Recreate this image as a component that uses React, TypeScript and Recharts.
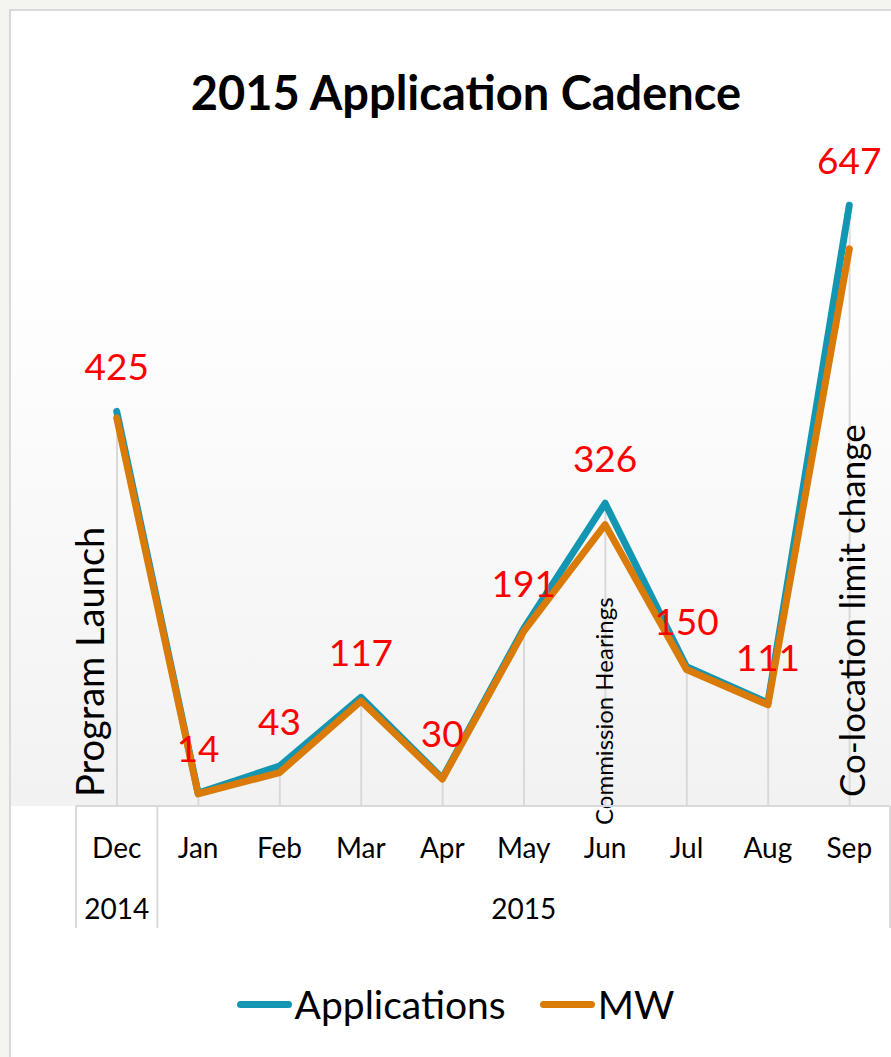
import React from 'react';
import { ComposedChart, Line, Bar, XAxis, YAxis, LabelList, Legend, ReferenceLine } from 'recharts';

const months = ['Dec', 'Jan', 'Feb', 'Mar', 'Apr', 'May', 'Jun', 'Jul', 'Aug', 'Sep'];
const years = ['2014', '2015', '2015', '2015', '2015', '2015', '2015', '2015', '2015', '2015'];
const applications = [425, 14, 43, 117, 30, 191, 326, 150, 111, 647];
const mw = [418, 13, 36, 113, 29, 188, 303, 147, 109, 600];
const events = [
  { month: 'Dec', text: 'Program Launch' },
  { month: 'Jun', text: 'Commission Hearings' },
  { month: 'Sep', text: 'Co-location limit change' },
];
const yDomain = [0, 700];

const data = months.map((m, i) => ({ month: m, year: years[i], applications: applications[i], mw: mw[i] }));

const W = 891;
const H = 1057;
const MARGIN = { top: 156, right: 1, bottom: 0, left: 76 };
const AXIS_H = 122;
const LEGEND_H = 129;
const BAND = (W - MARGIN.left - MARGIN.right) / months.length;
const FONT = 'Lato, "Open Sans", sans-serif';
const TEAL = '#1396b1';
const ORANGE = '#d97b06';
const GRID = '#d9d9d9';

const series = [
  { name: 'Applications', color: TEAL },
  { name: 'MW', color: ORANGE },
];

// offsets of the rotated notes relative to their category / the plot bottom
const eventStyle: Record<string, { dx: number; dy: number; size: number }> = {
  'Program Launch': { dx: -13, dy: -9, size: 38 },
  'Commission Hearings': { dx: 8, dy: 19, size: 24 },
  'Co-location limit change': { dx: 16, dy: -9, size: 35 },
};

function MonthTick(props: any) {
  const { x, y, index, payload } = props;
  const half = BAND / 2;
  const yr = years[index];
  const first = years.indexOf(yr);
  const last = years.lastIndexOf(yr);
  const mid = Math.floor((first + last) / 2);
  return (
    <g>
      <text x={x} y={y + 41} textAnchor="middle" dominantBaseline="central" fontSize={28} fontFamily={FONT} fill="#000">
        {payload.value}
      </text>
      {index === mid && (
        <text x={x} y={y + 102} textAnchor="middle" dominantBaseline="central" fontSize={28} fontFamily={FONT} fill="#000">
          {yr}
        </text>
      )}
      {index === first && <line x1={x - half} x2={x - half} y1={y} y2={y + AXIS_H} stroke={GRID} strokeWidth={2} />}
      {index === months.length - 1 && (
        <line x1={x + half} x2={x + half} y1={y} y2={y + AXIS_H} stroke={GRID} strokeWidth={2} />
      )}
    </g>
  );
}

function ValueLabel(p: any) {
  const x = p.viewBox?.x ?? p.x;
  const y = p.viewBox?.y ?? p.y;
  return (
    <text x={x} y={y - 46} textAnchor="middle" dominantBaseline="central" fill="#ff0000" fontSize={37} fontFamily={FONT}>
      {p.value}
    </text>
  );
}

function EventLabel(p: any, text: string) {
  const vb = p.viewBox || {};
  const s = eventStyle[text];
  const x = vb.x + s.dx;
  const bottom = Math.max(vb.y, vb.y + (vb.height || 0)) + s.dy;
  return (
    <text
      x={x}
      y={bottom}
      transform={`rotate(-90 ${x} ${bottom})`}
      textAnchor="start"
      fontSize={s.size}
      fontFamily={FONT}
      fill="#000"
    >
      {text}
    </text>
  );
}

function LegendContent() {
  return (
    <div
      style={{
        height: LEGEND_H,
        boxSizing: 'border-box',
        paddingTop: 23,
        paddingLeft: 20,
        display: 'flex',
        justifyContent: 'center',
        fontFamily: FONT,
        fontSize: 39,
        lineHeight: '40px',
        color: '#000',
      }}
    >
      {series.map((s, i) => (
        <div key={s.name} style={{ display: 'flex', alignItems: 'center', marginLeft: i ? 34 : 0 }}>
          <span style={{ display: 'inline-block', width: 55, height: 7, borderRadius: 4, background: s.color, marginRight: 3 }} />
          <span>{s.name}</span>
        </div>
      ))}
    </div>
  );
}

export default function App() {
  return (
    <div style={{ position: 'absolute', left: 0, top: 0, width: W, height: H, overflow: 'hidden', background: '#f4f4f0' }}>
      <div
        style={{
          position: 'absolute',
          left: 9,
          top: 9,
          width: W,
          height: H,
          border: `2px solid ${GRID}`,
          background: 'linear-gradient(to bottom, #ffffff 250px, #f2f2f2 795px, #ffffff 795px)',
        }}
      />
      <div
        style={{
          position: 'absolute',
          left: 0,
          top: 67,
          width: 932,
          textAlign: 'center',
          fontFamily: FONT,
          fontWeight: 700,
          fontSize: 47,
          lineHeight: '50px',
          color: '#000',
        }}
      >
        2015 Application Cadence
      </div>
      <div style={{ position: 'absolute', left: 0, top: 0 }}>
        <ComposedChart width={W} height={H} data={data} margin={MARGIN}>
          <XAxis
            xAxisId="m"
            dataKey="month"
            scale="band"
            interval={0}
            height={AXIS_H}
            tickSize={0}
            tickMargin={0}
            tickLine={false}
            axisLine={{ stroke: GRID, strokeWidth: 2 }}
            tick={<MonthTick />}
          />
          <YAxis hide domain={yDomain} />
          <Bar xAxisId="m" dataKey="applications" barSize={2} fill={GRID} isAnimationActive={false} legendType="none" />
          <Line
            xAxisId="m"
            dataKey="applications"
            name="Applications"
            stroke={TEAL}
            strokeWidth={7}
            strokeLinejoin="round"
            strokeLinecap="round"
            dot={false}
            activeDot={false}
            isAnimationActive={false}
          />
          <Line
            xAxisId="m"
            dataKey="mw"
            name="MW"
            stroke={ORANGE}
            strokeWidth={7}
            strokeLinejoin="round"
            strokeLinecap="round"
            dot={false}
            activeDot={false}
            isAnimationActive={false}
          />
          <Line
            xAxisId="m"
            dataKey="applications"
            stroke="none"
            dot={false}
            activeDot={false}
            legendType="none"
            isAnimationActive={false}
          >
            <LabelList dataKey="applications" content={ValueLabel} />
          </Line>
          {events.map((ev) => (
            <ReferenceLine
              key={ev.text}
              xAxisId="m"
              x={ev.month}
              stroke="none"
              ifOverflow="visible"
              label={(p: any) => EventLabel(p, ev.text)}
            />
          ))}
          <Legend
            verticalAlign="bottom"
            content={<LegendContent />}
            wrapperStyle={{ left: 0, bottom: 0, width: W, height: LEGEND_H }}
          />
        </ComposedChart>
      </div>
    </div>
  );
}
